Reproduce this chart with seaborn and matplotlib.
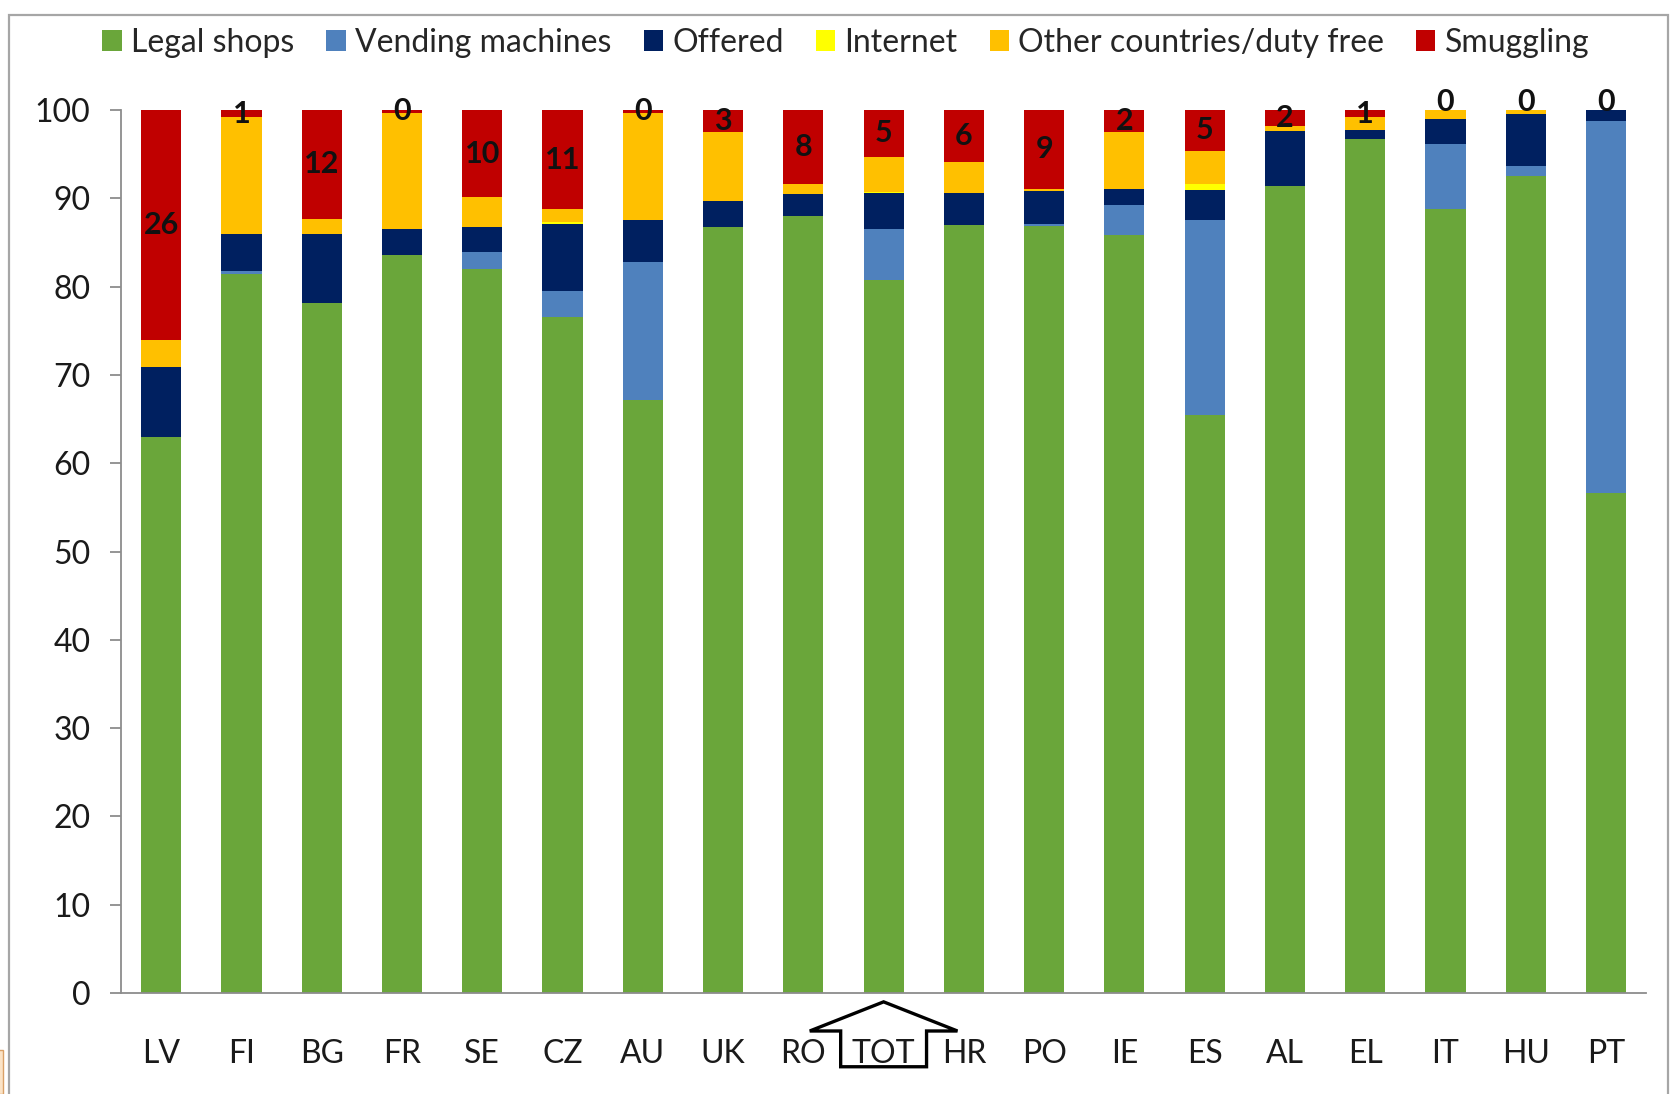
import numpy as np
import pandas as pd
import matplotlib
matplotlib.use("Agg")
import matplotlib.pyplot as plt
import seaborn as sns
from matplotlib.patches import Patch, Polygon, Rectangle

# values (percent of purchases)
countries = ['LV', 'FI', 'BG', 'FR', 'SE', 'CZ', 'AU', 'UK', 'RO', 'TOT',
             'HR', 'PO', 'IE', 'ES', 'AL', 'EL', 'IT', 'HU', 'PT']
legal = [63.0, 81.4, 78.2, 83.6, 82.0, 76.6, 67.2, 86.7, 88.0, 80.8,
         87.0, 86.9, 85.9, 65.5, 91.4, 96.7, 88.8, 92.5, 56.6]
vending = [0.0, 0.4, 0.0, 0.0, 1.9, 2.9, 15.6, 0.0, 0.0, 5.7,
           0.0, 0.2, 3.4, 22.1, 0.0, 0.0, 7.4, 1.2, 42.2]
offered = [7.9, 4.2, 7.8, 2.9, 2.9, 7.6, 4.8, 3.0, 2.5, 4.1,
           3.6, 3.7, 1.8, 3.3, 6.2, 1.0, 2.8, 5.9, 1.2]
internet = [0.0, 0.0, 0.0, 0.0, 0.0, 0.2, 0.0, 0.0, 0.0, 0.1,
            0.0, 0.0, 0.0, 0.7, 0.0, 0.0, 0.0, 0.0, 0.0]
other = [3.1, 13.2, 1.7, 13.2, 3.3, 1.5, 12.1, 7.8, 1.1, 4.0,
         3.5, 0.3, 6.4, 3.8, 0.6, 1.5, 1.0, 0.4, 0.0]
smuggling = [26.0, 0.8, 12.3, 0.3, 9.9, 11.2, 0.3, 2.5, 8.4, 5.3,
             5.9, 8.9, 2.5, 4.6, 1.8, 0.8, 0.0, 0.0, 0.0]
smuggling_labels = [26, 1, 12, 0, 10, 11, 0, 3, 8, 5, 6, 9, 2, 5, 2, 1, 0, 0, 0]

series_names = ['Legal shops', 'Vending machines', 'Offered', 'Internet',
                'Other countries/duty free', 'Smuggling']
colors = ['#6AA63A', '#4F81BD', '#002060', '#FFFF00', '#FFC000', '#C00000']

df = pd.DataFrame({'country': countries, 'Legal shops': legal,
                   'Vending machines': vending, 'Offered': offered,
                   'Internet': internet, 'Other countries/duty free': other,
                   'Smuggling': smuggling})
cum = df[series_names].cumsum(axis=1)

sns.set_style("white")
plt.rcParams['font.family'] = ['Lato', 'DejaVu Sans']

fig = plt.figure(figsize=(16.77, 10.94), dpi=100)
ax = fig.add_axes([0.0722, 0.0923, 0.9094, 0.8071])

# stacked bars: draw cumulative totals from the top layer down
for name, col in reversed(list(zip(series_names, colors))):
    sns.barplot(x=df['country'], y=cum[name], color=col, width=0.5,
                saturation=1, linewidth=0, errorbar=None, ax=ax)

# smuggling labels
for i, (s, lab) in enumerate(zip(smuggling, smuggling_labels)):
    y = 100 - s / 2 if s > 0 else 100.9
    ax.text(i, y, str(lab), ha='center', va='center', fontsize=22,
            fontweight='bold', color='#111111', clip_on=False)

ax.set_xlim(-0.5, len(countries) - 0.5)
ax.set_ylim(0, 100)
ax.set_yticks(range(0, 101, 10))
ax.set_xlabel('')
ax.set_ylabel('')
for side in ['top', 'right']:
    ax.spines[side].set_visible(False)
for side in ['left', 'bottom']:
    ax.spines[side].set_color('#8C8C8C')
    ax.spines[side].set_linewidth(1.3)
ax.tick_params(axis='y', direction='out', length=8, width=1.3, color='#8C8C8C',
               labelsize=23, pad=14, labelcolor='#1A1A1A', left=True)
ax.tick_params(axis='x', length=0, labelsize=23, pad=33, labelcolor='#1A1A1A')

# block arrow around the TOT label
t = countries.index('TOT')
arrow = Polygon([(t - 0.92, -4.3), (t, -1.0), (t + 0.92, -4.3),
                 (t + 0.535, -4.3), (t + 0.535, -8.35),
                 (t - 0.535, -8.35), (t - 0.535, -4.3)],
                closed=True, fill=False, edgecolor='black', linewidth=2.4,
                clip_on=False, joinstyle='miter')
ax.add_patch(arrow)

handles = [Patch(facecolor=c, edgecolor='none', label=n)
           for n, c in zip(series_names, colors)]
fig.legend(handles=handles, loc='center', bbox_to_anchor=(0.5045, 0.961),
           ncol=6, frameon=False, fontsize=23, handlelength=0.6,
           handleheight=0.6, handletextpad=0.3, columnspacing=1.0)

# outer chart frame
fig.add_artist(Rectangle((0.0054, -0.05), 0.9891, 1.036, transform=fig.transFigure,
                         fill=False, edgecolor='#A6A6A6', linewidth=1.6))
fig.add_artist(Rectangle((-0.002, 0.0), 0.0035, 0.04, transform=fig.transFigure,
                         facecolor='#FBE3C6', edgecolor='#D9A066', linewidth=1))

fig.savefig('out.png', dpi=100)
